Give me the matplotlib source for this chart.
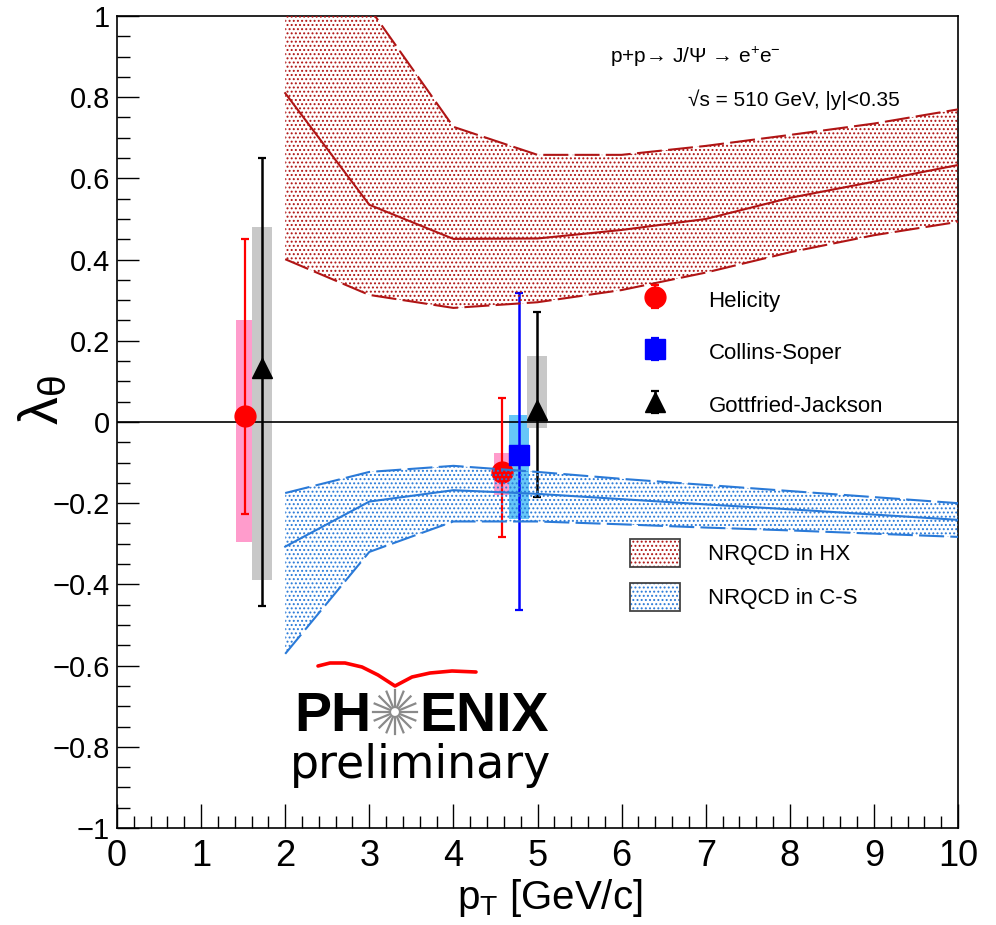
import numpy as np
import matplotlib.pyplot as plt
import matplotlib.patches as mpatches
from matplotlib.legend_handler import HandlerTuple
from matplotlib.lines import Line2D
from matplotlib import ticker

plt.rcParams['font.family'] = ['Liberation Sans', 'DejaVu Sans']
plt.rcParams['mathtext.fontset'] = 'custom'
plt.rcParams['mathtext.rm'] = 'Liberation Sans'
plt.rcParams['mathtext.it'] = 'Liberation Sans:italic'
plt.rcParams['mathtext.bf'] = 'Liberation Sans:bold'
plt.rcParams['hatch.linewidth'] = 0.9

# NRQCD bands (pT nodes)
pt_model = [2, 3, 4, 5, 6, 7, 8, 9, 10]
hx_central = [0.81, 0.535, 0.451, 0.452, 0.473, 0.50, 0.552, 0.592, 0.633]
hx_upper = [1.45, 1.02, 0.727, 0.658, 0.658, 0.68, 0.707, 0.735, 0.77]
hx_lower = [0.401, 0.313, 0.281, 0.295, 0.325, 0.368, 0.418, 0.46, 0.493]
cs_central = [-0.307, -0.196, -0.168, -0.177, -0.19, -0.203, -0.215, -0.228, -0.241]
cs_upper = [-0.175, -0.123, -0.108, -0.123, -0.14, -0.155, -0.17, -0.185, -0.2]
cs_lower = [-0.571, -0.32, -0.245, -0.245, -0.252, -0.26, -0.267, -0.275, -0.283]

# PHENIX data: value, stat (up, down), syst (up, down)
hel_pt = [1.52, 4.58]
hel_val = [0.015, -0.123]
hel_stat_up = [0.435, 0.183]
hel_stat_dn = [0.242, 0.160]
hel_sys_up = [0.235, 0.046]
hel_sys_dn = [0.310, 0.057]

cs_pt = [4.78]
cs_val = [-0.082]
cs_stat_up = [0.400]
cs_stat_dn = [0.381]
cs_sys_up = [0.099]
cs_sys_dn = [0.158]

gj_pt = [1.72, 4.99]
gj_val = [0.133, 0.030]
gj_stat_up = [0.517, 0.240]
gj_stat_dn = [0.586, 0.215]
gj_sys_up = [0.347, 0.133]
gj_sys_dn = [0.523, 0.045]

W, H = 996, 925


def px(x, y):
    return x / W, 1 - y / H


fig = plt.figure(figsize=(W / 100, H / 100), dpi=100)
ax = fig.add_axes([117 / W, 1 - 828 / H, (958 - 117) / W, (828 - 16) / H])

red_band = '#b01515'
blue_band = '#2a7ad8'

# systematic boxes
def sys_boxes(x, val, up, dn, color, width):
    val, up, dn = np.array(val), np.array(up), np.array(dn)
    ax.bar(x, up + dn, bottom=val - dn, width=width, color=color, lw=0, zorder=2)

sys_boxes(hel_pt, hel_val, hel_sys_up, hel_sys_dn, '#ff9ccc', 0.2)
sys_boxes(cs_pt, cs_val, cs_sys_up, cs_sys_dn, '#66c6f8', 0.24)
sys_boxes(gj_pt, gj_val, gj_sys_up, gj_sys_dn, '#c8c8c8', 0.24)

ax.axhline(0, color='black', lw=1.2, zorder=2.5)

h_hel = ax.errorbar(hel_pt, hel_val, yerr=[hel_stat_dn, hel_stat_up], fmt='o', color='red',
                    ms=15, elinewidth=1.6, capsize=3, capthick=1.6, zorder=3)
h_cs = ax.errorbar(cs_pt, cs_val, yerr=[cs_stat_dn, cs_stat_up], fmt='s', color='blue',
                   ms=14, elinewidth=1.8, capsize=3, capthick=1.6, zorder=3)
h_gj = ax.errorbar(gj_pt, gj_val, yerr=[gj_stat_dn, gj_stat_up], fmt='^', color='black',
                   ms=15, elinewidth=1.8, capsize=3, capthick=1.6, zorder=3)

# theory bands
for lo, mid, hi, col in [(hx_lower, hx_central, hx_upper, red_band),
                         (cs_lower, cs_central, cs_upper, blue_band)]:
    ax.fill_between(pt_model, lo, hi, facecolor='none', edgecolor=col, hatch='....', lw=0, zorder=4)
    ax.plot(pt_model, hi, color=col, lw=1.5, dashes=(12, 3), zorder=4)
    ax.plot(pt_model, lo, color=col, lw=1.5, dashes=(12, 3), zorder=4)
    ax.plot(pt_model, mid, color=col, lw=1.5, zorder=4)

ax.set_xlim(0, 10)
ax.set_ylim(-1, 1)
ax.xaxis.set_major_locator(ticker.MultipleLocator(1))
ax.xaxis.set_minor_locator(ticker.MultipleLocator(0.2))
ax.yaxis.set_major_locator(ticker.MultipleLocator(0.2))
ax.yaxis.set_minor_locator(ticker.MultipleLocator(0.05))
ax.yaxis.set_major_formatter(ticker.FuncFormatter(
    lambda v, p: ('%g' % round(v, 2)).replace('-', '\u2212') if abs(v) > 1e-9 else '0'))
ax.tick_params(which='both', direction='in', top=False, right=False, width=1)
ax.tick_params(axis='x', which='major', length=17, pad=8, labelsize=26)
ax.tick_params(axis='x', which='minor', length=9)
ax.tick_params(axis='y', which='major', length=16, pad=5, labelsize=21)
ax.tick_params(axis='y', which='minor', length=9)
for lab in ax.get_xticklabels():
    lab.set_family(['Liberation Sans Narrow', 'Liberation Sans'])
for s in ax.spines.values():
    s.set_linewidth(1.2)

fig.text(*px(550, 898), r'p$_{\mathrm{T}}$ [GeV/c]', fontsize=29, ha='center', va='center')
fig.text(*px(44, 400), r'$\mathrm{\lambda}_{\mathrm{\theta}}$', fontsize=40, rotation=90,
         ha='center', va='center')

fig.text(*px(610, 57), 'p+p\u2192 J/\u03a8 \u2192 e$^{+}$e$^{-}$', fontsize=15,
         ha='left', va='center')
fig.text(*px(688, 100), '\u221as = 510 GeV, |y|<0.35', fontsize=15, ha='left', va='center')

# legends
leg1 = ax.legend([h_hel, h_cs, h_gj], ['Helicity', 'Collins-Soper', 'Gottfried-Jackson'],
                 loc='center left', bbox_to_anchor=(644 / W, 1 - 352 / H), bbox_transform=fig.transFigure,
                 frameon=False, fontsize=16, handlelength=1.0, handletextpad=1.9,
                 labelspacing=1.22, borderpad=0, borderaxespad=0, handleheight=1.4)
ax.add_artist(leg1)

hx_h = (mpatches.Patch(facecolor='none', edgecolor=red_band, hatch='....', lw=0),
        mpatches.Patch(facecolor='none', edgecolor='#444444', lw=1.3))
cs_h = (mpatches.Patch(facecolor='none', edgecolor=blue_band, hatch='....', lw=0),
        mpatches.Patch(facecolor='none', edgecolor='#444444', lw=1.3))
leg2 = ax.legend([hx_h, cs_h], ['NRQCD in HX', 'NRQCD in C-S'], handler_map={tuple: HandlerTuple(ndivide=1)},
                 loc='center left', bbox_to_anchor=(630 / W, 1 - 575 / H), bbox_transform=fig.transFigure,
                 frameon=False, fontsize=16, handlelength=2.27, handleheight=1.55, handletextpad=1.23,
                 labelspacing=0.73, borderpad=0, borderaxespad=0)

# PHENIX preliminary logo
fig.text(*px(294, 731), 'PH', fontsize=40, fontweight='bold', ha='left', va='baseline')
fig.text(*px(419, 731), 'ENIX', fontsize=40, fontweight='bold', ha='left', va='baseline')
fig.text(*px(290, 778), 'preliminary', fontsize=33, family='DejaVu Sans', ha='left', va='baseline')
cx, cy = 395, 712
for ang in np.linspace(0, 2 * np.pi, 16, endpoint=False):
    x0, y0 = px(cx + 5 * np.cos(ang), cy + 5 * np.sin(ang))
    x1, y1 = px(cx + 22 * np.cos(ang), cy + 22 * np.sin(ang))
    fig.add_artist(Line2D([x0, x1], [y0, y1], color='#8a8a8a', lw=1.6, transform=fig.transFigure))
wing_x = [318, 330, 345, 362, 378, 395, 412, 430, 452, 476]
wing_y = [666, 663, 663, 667, 675, 686, 677, 673, 671, 672]
wx, wy = zip(*[px(a, b) for a, b in zip(wing_x, wing_y)])
fig.add_artist(Line2D(wx, wy, color='red', lw=2.6, transform=fig.transFigure,
                      solid_joinstyle='round', solid_capstyle='round'))

fig.savefig('out.png', dpi=100)
